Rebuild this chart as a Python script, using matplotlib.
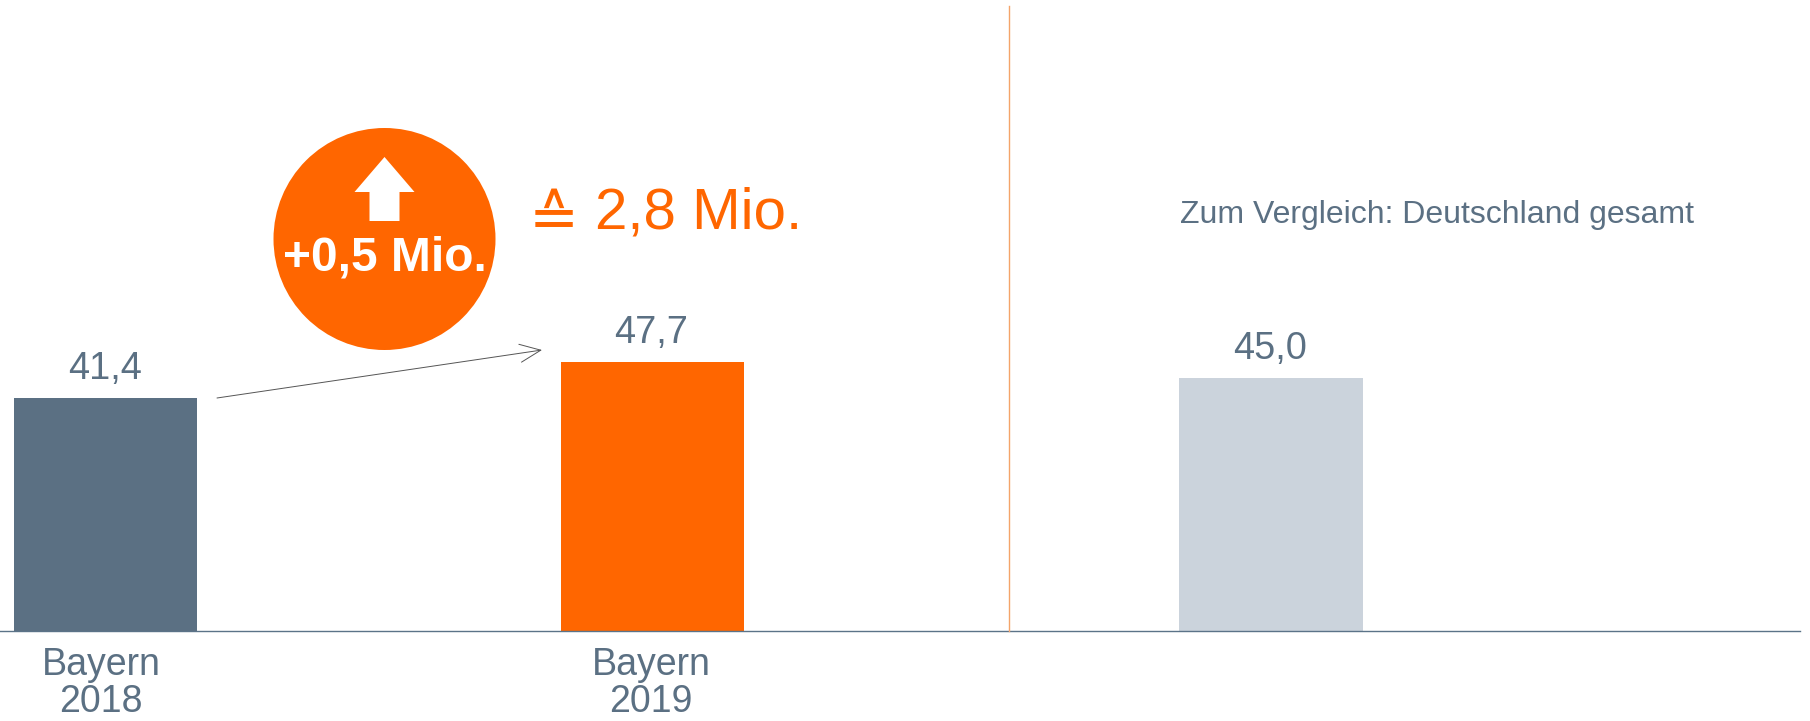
import matplotlib
matplotlib.use("Agg")
import matplotlib.pyplot as plt
from matplotlib.patches import Circle, Polygon

plt.rcParams['font.family'] = ['Liberation Sans', 'DejaVu Sans']

# data
values = [41.4, 47.7, 45.0]
value_labels = ["41,4", "47,7", "45,0"]
region_labels = ["Bayern", "Bayern"]
year_labels = ["2018", "2019"]

SLATE = "#5B7083"
ORANGE = "#FF6600"
GREY = "#CBD3DC"
bar_colors = [SLATE, ORANGE, GREY]

W, H = 1810, 721
BASE_Y = 631
PX_PER_UNIT = 5.63
bar_centers = [105.7, 652.3, 1271]
label_centers = [101, 651]
bar_width = 183.5

fig = plt.figure(figsize=(W / 100, H / 100), dpi=100, facecolor="white")

# bars: x in pixels, y in data units with zero on the baseline
ax = fig.add_axes([0, 0, 1, 1])
ax.set_xlim(0, W)
ax.set_ylim(-(H - BASE_Y) / PX_PER_UNIT, BASE_Y / PX_PER_UNIT)
ax.axis("off")
ax.bar(bar_centers, values, width=bar_width, color=bar_colors, linewidth=0)
for x, v, lab in zip(bar_centers, values, value_labels):
    ax.text(x - 1, v + 3.4, lab, ha="center", va="baseline", fontsize=27.3, color=SLATE)

# overlay in pixel coordinates for the annotations
ov = fig.add_axes([0, 0, 1, 1])
ov.set_xlim(0, W)
ov.set_ylim(H, 0)
ov.axis("off")
ov.patch.set_alpha(0)

for x, region, year in zip(label_centers, region_labels, year_labels):
    ov.text(x, 675, region, ha="center", va="baseline", fontsize=27, color=SLATE)
    ov.text(x, 712, year, ha="center", va="baseline", fontsize=27, color=SLATE)

ov.plot([0, 1800], [BASE_Y, BASE_Y], color="#5B7388", lw=1.0)
ov.plot([1009, 1009], [6, BASE_Y], color="#F4A46A", lw=1.0)

ov.add_patch(Circle((384.5, 239), 111, facecolor=ORANGE, edgecolor="none"))
ov.add_patch(Polygon([(384.5, 157), (414.5, 192), (399.5, 192), (399.5, 221),
                      (369.5, 221), (369.5, 192), (354.5, 192)],
                     closed=True, facecolor="white", edgecolor="none"))
ov.text(384.5, 258, "+0,5 Mio.", ha="center", va="center", fontsize=34.5,
        fontweight="bold", color="white")
ov.text(529, 216, "≙", ha="left", va="center_baseline", fontsize=43, color=ORANGE)
ov.text(595, 207, "2,8 Mio.", ha="left", va="center_baseline", fontsize=42, color=ORANGE)

ov.annotate("", xy=(542, 350), xytext=(217, 398),
            arrowprops=dict(arrowstyle="->,head_length=1.5,head_width=0.65",
                            color="#555555", lw=0.7, shrinkA=0, shrinkB=0))

ov.text(1180, 215, "Zum Vergleich: Deutschland gesamt", ha="left", va="center",
        fontsize=23, color=SLATE)

fig.savefig("out.png", dpi=100)
